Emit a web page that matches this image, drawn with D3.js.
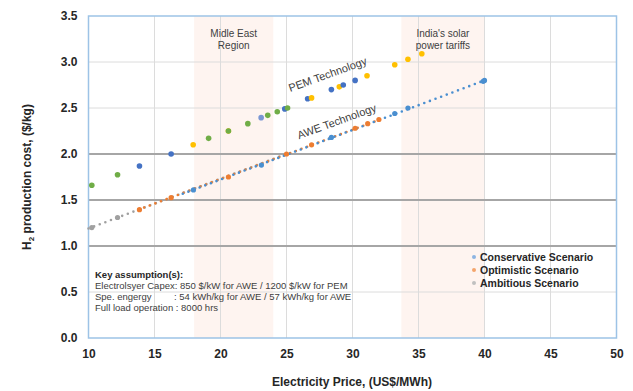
<!DOCTYPE html>
<html><head><meta charset="utf-8">
<script src="https://cdn.jsdelivr.net/npm/d3@7"></script>
<style>
body{margin:0;background:#fff;}
text{font-family:"Liberation Sans",Arial,sans-serif;}
</style></head>
<body><svg id="c" width="633" height="391"></svg>
<script>
// ---- data ----
const xTicks = [10,15,20,25,30,35,40,45,50];
const yTicks = [0,0.5,1.0,1.5,2.0,2.5,3.0,3.5];
const strongLines = [1.0,1.5,2.0];

// PEM technology points (electricity price, cost, colour group)
const pemX = [10.25,12.2,13.86,16.26,17.93,19.1,20.6,20.6,22.07,23.08,23.58,24.3,24.87,25.08,26.6,26.9,28.4,29.0,29.3,30.2,31.1,33.2,34.2,35.25];
const pemY = [1.66,1.775,1.87,2.0,2.10,2.17,2.25,2.25,2.33,2.395,2.42,2.46,2.49,2.50,2.60,2.61,2.70,2.73,2.75,2.80,2.85,2.97,3.03,3.09];
const pemG = ["g","g","b","b","y","g","y","g","g","lb","g","g","b","g","b","y","b","y","b","b","y","y","y","y"];

// AWE technology markers (price, cost, scenario)
const aweX = [10.25,12.2,13.86,16.26,17.95,20.6,23.1,25.0,26.9,28.4,30.2,31.15,32.0,33.2,34.2,39.9,40.0];
const aweY = [1.20,1.31,1.395,1.525,1.61,1.75,1.88,2.0,2.10,2.18,2.28,2.33,2.375,2.44,2.50,2.79,2.80];
const aweS = ["amb","amb","opt","opt","con","opt","con","opt","opt","con","opt","opt","opt","con","con","con","con"];

// dotted AWE trend segments per scenario: [x0,y0,x1,y1]
const segCon = [17.0,1.56,40.0,2.80];
const segOpt = [13.5,1.38,32.0,2.37];
const segAmb = [10.0,1.19,25.0,2.00];

const scenarios = ["Conservative Scenario","Optimistic Scenario","Ambitious Scenario"];
const regions = [{x0:18,x1:24,l1:"Midle East",l2:"Region"},{x0:33.7,x1:40,l1:"India's solar",l2:"power tariffs"}];

// ---- drawing ----
const svg = d3.select("#c");
const L=88.5,R=616.5,T=16,B=338;
const x = d3.scaleLinear().domain([10,50]).range([L,R]);
const y = d3.scaleLinear().domain([0,3.5]).range([B,T]);

// shaded regions
svg.selectAll("rect.reg").data(regions).enter().append("rect")
  .attr("x",d=>x(d.x0)).attr("y",T).attr("width",d=>x(d.x1)-x(d.x0)).attr("height",B-T)
  .attr("fill","#FEF4F0");

// grid
svg.selectAll("line.vg").data(xTicks.slice(1,-1)).enter().append("line")
  .attr("x1",d=>x(d)).attr("x2",d=>x(d)).attr("y1",T).attr("y2",B)
  .attr("stroke","#DCDCDC").attr("stroke-width",1);
svg.selectAll("line.hg").data(yTicks.filter(v=>v>0&&v<3.5&&!strongLines.includes(v))).enter().append("line")
  .attr("x1",L).attr("x2",R).attr("y1",d=>y(d)).attr("y2",d=>y(d))
  .attr("stroke","#DCDCDC").attr("stroke-width",1);
svg.selectAll("line.sg").data(strongLines).enter().append("line")
  .attr("x1",L).attr("x2",R).attr("y1",d=>y(d)).attr("y2",d=>y(d))
  .attr("stroke","#A6A6A6").attr("stroke-width",2);

// region labels
regions.forEach(r=>{
  const cx=(x(r.x0)+x(r.x1))/2;
  svg.append("text").attr("x",cx).attr("y",37).attr("text-anchor","middle").attr("font-size",10).attr("fill","#404040").text(r.l1);
  svg.append("text").attr("x",cx).attr("y",49).attr("text-anchor","middle").attr("font-size",10).attr("fill","#404040").text(r.l2);
});

// frame
svg.append("rect").attr("x",L).attr("y",T).attr("width",R-L).attr("height",B-T)
  .attr("fill","none").attr("stroke","#9DC3E6").attr("stroke-width",1.5);

// axes
const fmtX=d3.format("d"), fmtY=d3.format(".1f");
const gx=svg.append("g").attr("transform",`translate(0,${B})`)
  .call(d3.axisBottom(x).tickValues(xTicks).tickFormat(fmtX).tickSize(0).tickPadding(11));
const gy=svg.append("g").attr("transform",`translate(${L},0)`)
  .call(d3.axisLeft(y).tickValues(yTicks).tickFormat(fmtY).tickSize(0).tickPadding(11));
[gx,gy].forEach(g=>{g.select(".domain").remove();
  g.selectAll("text").attr("font-family","Liberation Sans, Arial, sans-serif").attr("font-size",12).attr("font-weight","bold").attr("fill","#262626");});

// axis titles
svg.append("text").attr("x",352).attr("y",386).attr("text-anchor","middle").attr("font-size",12).attr("font-weight","bold").attr("fill","#262626").text("Electricity Price, (US$/MWh)");
const yt=svg.append("text").attr("transform","translate(31,177) rotate(-90)").attr("text-anchor","middle").attr("font-size",12).attr("font-weight","bold").attr("fill","#262626");
yt.append("tspan").text("H");
yt.append("tspan").attr("font-size",8).attr("dy",3).text("2");
yt.append("tspan").attr("dy",-3).text(" production cost, ($/kg)");

// colours
const scLine={con:"#4A8FD0",opt:"#ED7D31",amb:"#A0A0A0"};
const pc={g:"#70AD47",b:"#4472C4",y:"#FFC000",lb:"#7A96D4"};

// dotted AWE segments
[["amb",segAmb,0],["opt",segOpt,2],["con",segCon,4]].forEach(([k,s,off])=>{
  svg.append("line").attr("x1",x(s[0])).attr("y1",y(s[1])).attr("x2",x(s[2])).attr("y2",y(s[3]))
    .attr("stroke",scLine[k]).attr("stroke-width",2.6).attr("stroke-linecap","round")
    .attr("stroke-dasharray","0 6").attr("stroke-dashoffset",off);
});
// AWE markers
svg.selectAll("circle.awe").data(aweX.map((v,i)=>({x:v,y:aweY[i],s:aweS[i]}))).enter().append("circle")
  .attr("cx",d=>x(d.x)).attr("cy",d=>y(d.y)).attr("r",2.6).attr("fill",d=>scLine[d.s]);

// PEM markers
svg.selectAll("circle.pem").data(pemX.map((v,i)=>({x:v,y:pemY[i],g:pemG[i]}))).enter().append("circle")
  .attr("cx",d=>x(d.x)).attr("cy",d=>y(d.y)).attr("r",2.8).attr("fill",d=>pc[d.g]);

// tech labels
svg.append("text").attr("transform","translate(329,78) rotate(-20)").attr("text-anchor","middle").attr("font-size",11).attr("fill","#404040").text("PEM Technology");
svg.append("text").attr("transform","translate(338,125) rotate(-20)").attr("text-anchor","middle").attr("font-size",11).attr("fill","#404040").text("AWE Technology");

// legend
const legC=["#8DB4E2","#F4A46C","#C0C0C0"];
scenarios.forEach((s,i)=>{
  const yy=257+i*13;
  svg.append("circle").attr("cx",474).attr("cy",yy).attr("r",2).attr("fill",legC[i]);
  svg.append("text").attr("x",480).attr("y",yy+4).attr("font-size",10.5).attr("font-weight","bold").attr("fill","#262626").text(s);
});

// key assumptions
const ka=svg.append("g").attr("font-size",9.5).attr("fill","#404040");
ka.append("text").attr("x",95).attr("y",278).attr("font-weight","bold").attr("fill","#262626").text("Key assumption(s):");
ka.append("text").attr("x",95).attr("y",289).text("Electrolsyer Capex: 850 $/kW for AWE / 1200 $/kW for PEM");
ka.append("text").attr("x",95).attr("y",300).text("Spe. engergy");
ka.append("text").attr("x",174).attr("y",300).text(": 54 kWh/kg for AWE / 57 kWh/kg for AWE");
ka.append("text").attr("x",95).attr("y",310.5).text("Full load operation : 8000 hrs");
</script></body></html>
